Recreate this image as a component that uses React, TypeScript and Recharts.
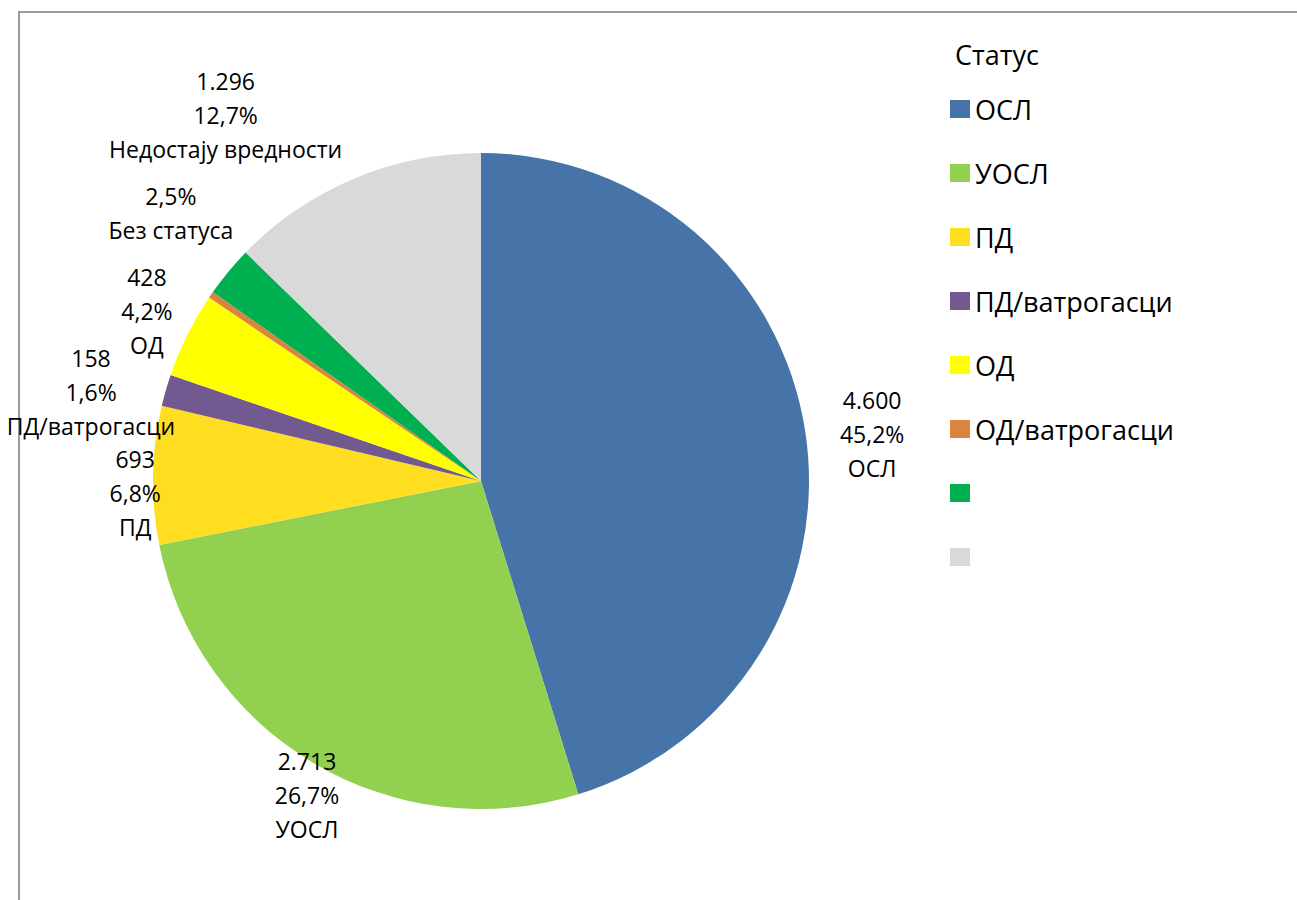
import { PieChart, Pie, Cell, Legend } from "recharts";

const CATEGORIES = ["ОСЛ", "УОСЛ", "ПД", "ПД/ватрогасци", "ОД", "ОД/ватрогасци", "Без статуса", "Недостају вредности"];
const LEGEND_NAMES = ["ОСЛ", "УОСЛ", "ПД", "ПД/ватрогасци", "ОД", "ОД/ватрогасци", "", ""];
const COUNTS = [4600, 2713, 693, 158, 428, 33, 254, 1296];
const SHOW_COUNT = [true, true, true, true, true, false, false, true];
const SHOW_LABEL = [true, true, true, true, true, false, true, true];
const COLORS = ["#4674a8", "#92d050", "#ffde22", "#725a91", "#ffff00", "#db843d", "#00b050", "#d9d9d9"];

// label placement: extra distance beyond the rim and small angle shift (deg)
const LABEL_GAP = [66, 31, 18, 72, 47, 0, 82, 118];
const LABEL_TURN = [-1.7, 1.75, 3, 3.2, -0.6, 0, -1.2, 12];

const FONT = "'Open Sans', sans-serif";
const RAD = Math.PI / 180;

const data = CATEGORIES.map((name, i) => ({ name, value: COUNTS[i] }));
const total = COUNTS.reduce((s, v) => s + v, 0);

const fmtCount = (v: number) => String(v).replace(/\B(?=(\d{3})+(?!\d))/g, ".");
const fmtPct = (v: number) => ((v / total) * 100).toFixed(1).replace(".", ",") + "%";

const renderLabel = (props: any) => {
  const { cx, cy, midAngle, outerRadius, index, value } = props;
  if (!SHOW_LABEL[index]) return null;
  const ang = (midAngle + LABEL_TURN[index]) * RAD;
  const r = outerRadius + LABEL_GAP[index];
  const x = cx + r * Math.cos(-ang);
  const y = cy + r * Math.sin(-ang);
  const lines: string[] = [];
  if (SHOW_COUNT[index]) lines.push(fmtCount(value));
  lines.push(fmtPct(value));
  lines.push(CATEGORIES[index]);
  const step = 34;
  const y0 = y - ((lines.length - 1) * step) / 2;
  return (
    <text x={x} y={y0} textAnchor="middle" dominantBaseline="central" fill="#000" fontSize={23} fontFamily={FONT}>
      {lines.map((l, k) => (
        <tspan key={k} x={x} y={y0 + k * step}>
          {l}
        </tspan>
      ))}
    </text>
  );
};

const renderLegend = () => (
  <div style={{ fontFamily: FONT, fontSize: 27, color: "#000" }}>
    <div style={{ height: 44, lineHeight: "44px", paddingLeft: 5 }}>Статус</div>
    {LEGEND_NAMES.map((n, i) => (
      <div key={i} style={{ height: 64, display: "flex", alignItems: "center" }}>
        <span style={{ width: 20, height: 18, background: COLORS[i], display: "inline-block", marginRight: 5 }} />
        <span>{n}</span>
      </div>
    ))}
  </div>
);

export default function App() {
  return (
    <div style={{ position: "absolute", left: 0, top: 0, width: 1297, height: 900, overflow: "hidden", background: "#fff" }}>
      <div
        style={{
          position: "absolute",
          left: 18,
          top: 11,
          width: 1279,
          height: 889,
          borderLeft: "2px solid #9a9a9a",
          borderTop: "2px solid #9a9a9a",
          boxSizing: "border-box",
        }}
      />
      <div style={{ position: "absolute", left: 0, top: 0 }}>
        <PieChart width={1297} height={900} margin={{ top: 0, right: 0, bottom: 0, left: 0 }}>
          <Pie
            data={data}
            dataKey="value"
            nameKey="name"
            cx={481}
            cy={481}
            outerRadius={328}
            startAngle={90}
            endAngle={-270}
            stroke="none"
            label={renderLabel}
            labelLine={false}
            isAnimationActive={false}
          >
            {data.map((_, i) => (
              <Cell key={i} fill={COLORS[i]} />
            ))}
          </Pie>
          <Legend
            layout="vertical"
            verticalAlign="top"
            align="right"
            content={renderLegend}
            wrapperStyle={{ left: 950, right: "auto", top: 33, width: 330 }}
          />
        </PieChart>
      </div>
    </div>
  );
}
